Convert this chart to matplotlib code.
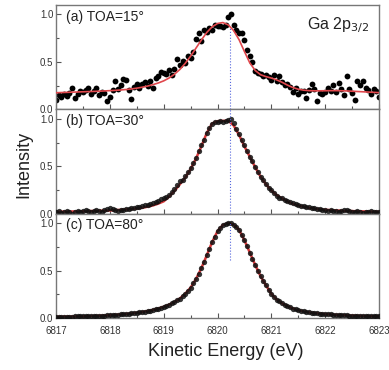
import numpy as np
import matplotlib
matplotlib.use("Agg")
import matplotlib.pyplot as plt
from matplotlib.ticker import MultipleLocator

plt.rcParams['font.family'] = ['Liberation Sans', 'DejaVu Sans']

# measurement grids (eV)
E_START, E_STEP_DATA, E_STEP_FIT = 6817.0, 0.05, 0.1
peak_energy = 6820.23

labels = ["(a) TOA=15°", "(b) TOA=30°", "(c) TOA=80°"]

data_a = [
    0.10, 0.15, 0.13, 0.16, 0.14, 0.17, 0.23, 0.12, 0.16, 0.19,
    0.18, 0.20, 0.22, 0.16, 0.19, 0.23, 0.15, 0.18, 0.17, 0.09,
    0.13, 0.20, 0.30, 0.21, 0.26, 0.32, 0.31, 0.20, 0.11, 0.24,
    0.27, 0.22, 0.27, 0.29, 0.25, 0.30, 0.23, 0.33, 0.35, 0.39,
    0.38, 0.37, 0.41, 0.36, 0.43, 0.53, 0.47, 0.51, 0.49, 0.56,
    0.54, 0.60, 0.74, 0.80, 0.72, 0.84, 0.82, 0.86, 0.84, 0.89,
    0.88, 0.88, 0.87, 0.89, 0.97, 1.00, 0.89, 0.84, 0.80, 0.81,
    0.73, 0.63, 0.56, 0.50, 0.40, 0.38, 0.37, 0.35, 0.36, 0.34,
    0.31, 0.36, 0.30, 0.35, 0.29, 0.26, 0.27, 0.24, 0.18, 0.22,
    0.16, 0.19, 0.19, 0.12, 0.20, 0.27, 0.21, 0.09, 0.17, 0.16,
    0.18, 0.23, 0.19, 0.26, 0.18, 0.28, 0.21, 0.15, 0.35, 0.21,
    0.17, 0.10, 0.30, 0.26, 0.30, 0.22, 0.20, 0.16, 0.21, 0.19,
    0.13]

data_b = [
    0.02, 0.03, 0.01, 0.02, 0.03, 0.02, 0.00, 0.02, 0.03, 0.02,
    0.03, 0.04, 0.03, 0.02, 0.03, 0.04, 0.03, 0.02, 0.04, 0.05,
    0.06, 0.05, 0.04, 0.03, 0.04, 0.04, 0.05, 0.05, 0.06, 0.06,
    0.07, 0.07, 0.08, 0.09, 0.09, 0.10, 0.11, 0.12, 0.13, 0.15,
    0.16, 0.18, 0.20, 0.23, 0.26, 0.30, 0.34, 0.36, 0.40, 0.44,
    0.48, 0.53, 0.59, 0.66, 0.72, 0.78, 0.85, 0.90, 0.95, 0.97,
    0.97, 0.98, 0.97, 0.98, 0.99, 1.00, 0.96, 0.89, 0.84, 0.78,
    0.72, 0.66, 0.60, 0.55, 0.49, 0.44, 0.39, 0.35, 0.31, 0.27,
    0.25, 0.22, 0.19, 0.17, 0.16, 0.14, 0.13, 0.12, 0.11, 0.10,
    0.09, 0.08, 0.08, 0.07, 0.07, 0.06, 0.06, 0.05, 0.05, 0.04,
    0.04, 0.03, 0.04, 0.03, 0.03, 0.02, 0.03, 0.04, 0.04, 0.03,
    0.02, 0.02, 0.03, 0.02, 0.01, 0.02, 0.02, 0.03, 0.02, 0.02,
    0.02]

data_c = [
    0.012, 0.013, 0.013, 0.014, 0.014, 0.015, 0.015, 0.016, 0.016, 0.017,
    0.017, 0.018, 0.019, 0.020, 0.021, 0.022, 0.023, 0.025, 0.026, 0.028,
    0.029, 0.031, 0.033, 0.035, 0.037, 0.040, 0.042, 0.045, 0.048, 0.052,
    0.055, 0.059, 0.063, 0.068, 0.073, 0.079, 0.085, 0.092, 0.100, 0.109,
    0.118, 0.129, 0.140, 0.154, 0.168, 0.186, 0.205, 0.230, 0.255, 0.287,
    0.320, 0.365, 0.410, 0.468, 0.525, 0.592, 0.660, 0.730, 0.800, 0.858,
    0.915, 0.948, 0.980, 0.992, 1.000, 0.998, 0.985, 0.960, 0.930, 0.875,
    0.820, 0.755, 0.690, 0.625, 0.560, 0.500, 0.440, 0.392, 0.345, 0.300,
    0.255, 0.225, 0.195, 0.175, 0.155, 0.140, 0.125, 0.112, 0.100, 0.091,
    0.083, 0.076, 0.070, 0.065, 0.060, 0.056, 0.052, 0.049, 0.046, 0.043,
    0.041, 0.039, 0.037, 0.035, 0.033, 0.032, 0.030, 0.029, 0.028, 0.026,
    0.025, 0.024, 0.023, 0.022, 0.021, 0.020, 0.019, 0.019, 0.018, 0.017,
    0.016]

fit_a = [
    0.175, 0.177, 0.179, 0.181, 0.183, 0.185, 0.187, 0.189, 0.191, 0.194,
    0.197, 0.200, 0.204, 0.209, 0.215, 0.223, 0.233, 0.245, 0.260, 0.278,
    0.300, 0.330, 0.370, 0.420, 0.485, 0.560, 0.645, 0.730, 0.810, 0.870,
    0.905, 0.915, 0.890, 0.830, 0.735, 0.610, 0.490, 0.410, 0.365, 0.345,
    0.330, 0.310, 0.285, 0.255, 0.230, 0.212, 0.202, 0.197, 0.195, 0.195,
    0.196, 0.197, 0.197, 0.196, 0.194, 0.191, 0.188, 0.185, 0.182, 0.179,
    0.176]

fit_b = [
    0.020, 0.021, 0.022, 0.023, 0.024, 0.025, 0.027, 0.028, 0.030, 0.032,
    0.034, 0.037, 0.040, 0.044, 0.049, 0.055, 0.063, 0.073, 0.087, 0.106,
    0.130, 0.180, 0.240, 0.310, 0.380, 0.470, 0.580, 0.710, 0.850, 0.950,
    0.975, 0.978, 0.980, 0.930, 0.830, 0.710, 0.600, 0.490, 0.390, 0.310,
    0.245, 0.195, 0.160, 0.130, 0.105, 0.087, 0.073, 0.062, 0.053, 0.046,
    0.041, 0.037, 0.034, 0.031, 0.029, 0.027, 0.025, 0.024, 0.022, 0.021,
    0.020]

fit_c = [
    0.012, 0.013, 0.014, 0.015, 0.016, 0.017, 0.019, 0.021, 0.023, 0.026,
    0.029, 0.033, 0.037, 0.042, 0.048, 0.055, 0.063, 0.073, 0.085, 0.100,
    0.118, 0.140, 0.168, 0.205, 0.255, 0.320, 0.410, 0.525, 0.660, 0.800,
    0.915, 0.980, 1.000, 0.985, 0.930, 0.820, 0.690, 0.560, 0.440, 0.345,
    0.255, 0.195, 0.155, 0.125, 0.100, 0.083, 0.070, 0.060, 0.052, 0.046,
    0.041, 0.037, 0.033, 0.030, 0.028, 0.025, 0.023, 0.021, 0.019, 0.018,
    0.016]

xticks = [6817, 6818, 6819, 6820, 6821, 6822, 6823]

datasets = [data_a, data_b, data_c]
fits = [fit_a, fit_b, fit_c]
marker_sizes = [4.2, 3.8, 3.8]
vline_spans = [(0.0, 0.87), (0.0, 1.1), (0.61, 1.0)]

W, H = 389, 370
fig = plt.figure(figsize=(W / 100, H / 100), dpi=100)
left, right = 56 / W, 379 / W
top_px, bot_px = 5, 318
panel_h = (bot_px - top_px) / 3

axes = []
for i in range(3):
    y0 = 1 - (top_px + panel_h * (i + 1)) / H
    ax = fig.add_axes([left, y0, right - left, panel_h / H])
    axes.append(ax)

gray = '#555555'
for i, ax in enumerate(axes):
    d = np.asarray(datasets[i])
    f = np.asarray(fits[i])
    xd = E_START + E_STEP_DATA * np.arange(len(d))
    xf = E_START + E_STEP_FIT * np.arange(len(f))
    if i == 0:
        ax.plot(xd, d, 'o', color='black', ms=marker_sizes[i], mew=0, zorder=2)
        ax.plot(xf, f, '-', color='#e0474c', lw=1.2, zorder=3)
    else:
        ax.plot(xf, f, '-', color='#d9383a', lw=1.8, zorder=2)
        ax.plot(xd, d, 'o', color='#111111', ms=marker_sizes[i], mew=0, zorder=3, alpha=0.85)
    lo, hi = vline_spans[i]
    ax.plot([peak_energy, peak_energy], [lo, hi], ':', color='#5566dd', lw=0.8, zorder=4)

    ax.set_xlim(6817, 6823)
    ax.set_ylim(0, 1.1)
    ax.set_yticks([0.0, 0.5, 1.0])
    ax.set_yticklabels(['0.0', '0.5', '1.0'])
    ax.yaxis.set_minor_locator(MultipleLocator(0.25))
    ax.set_xticks(xticks)
    ax.xaxis.set_minor_locator(MultipleLocator(0.5))
    ax.tick_params(which='both', direction='in', colors=gray, labelcolor='#333333',
                   labelsize=7, width=0.8)
    ax.tick_params(axis='y', pad=2)
    ax.tick_params(axis='x', pad=6)
    ax.tick_params(which='major', length=3.5)
    ax.tick_params(which='minor', length=2)
    for s in ax.spines.values():
        s.set_color('#777777')
        s.set_linewidth(1.0)
    if i < 2:
        ax.tick_params(labelbottom=False)
    else:
        ax.set_xticklabels([str(t) for t in xticks])
    ax.text(0.03, 0.955, labels[i], transform=ax.transAxes, fontsize=10,
            ha='left', va='top', color='#222222')

axes[0].text(0.97, 0.9, r'Ga 2p$_{3/2}$', transform=axes[0].transAxes,
             fontsize=11.5, ha='right', va='top', color='#222222')

fig.text(24 / W, 1 - 164 / H, 'Intensity', rotation=90, fontsize=13,
         ha='center', va='center', color='#222222')
fig.text(226 / W, 1 - 352 / H, 'Kinetic Energy (eV)', fontsize=13,
         ha='center', va='center', color='#222222')

fig.savefig('out.png', dpi=100)
